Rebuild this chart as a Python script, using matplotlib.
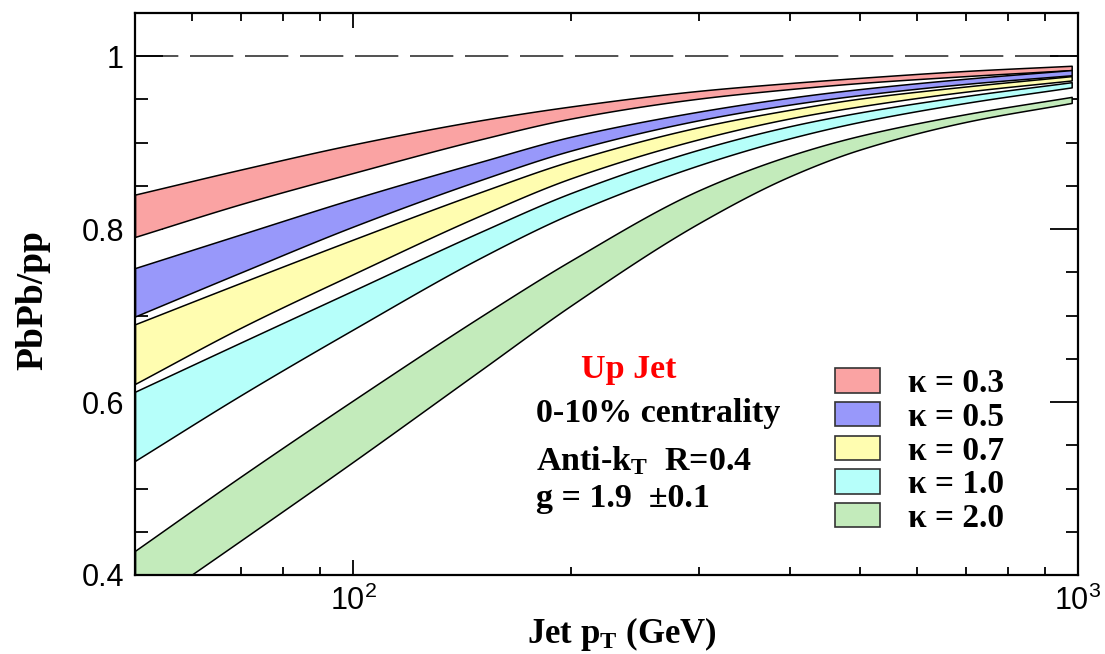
import matplotlib
matplotlib.use("Agg")
import numpy as np
import matplotlib.pyplot as plt
from matplotlib.patches import Patch
from matplotlib.ticker import FixedLocator, NullFormatter, MultipleLocator

# Jet pT grid (GeV) and PbPb/pp bands (upper / lower edges) per kappa
pt = [50, 70, 100, 150, 200, 300, 400, 500, 700, 980]

k03_hi = [0.840, 0.869, 0.898, 0.926, 0.942, 0.960, 0.969, 0.975, 0.983, 0.989]
k03_lo = [0.791, 0.829, 0.865, 0.904, 0.928, 0.951, 0.962, 0.969, 0.977, 0.984]

k05_hi = [0.755, 0.794, 0.835, 0.878, 0.907, 0.936, 0.952, 0.962, 0.974, 0.984]
k05_lo = [0.699, 0.750, 0.803, 0.857, 0.891, 0.926, 0.944, 0.955, 0.968, 0.978]

k07_hi = [0.690, 0.738, 0.788, 0.843, 0.879, 0.918, 0.938, 0.951, 0.965, 0.977]
k07_lo = [0.621, 0.686, 0.748, 0.816, 0.859, 0.904, 0.928, 0.942, 0.959, 0.972]

k10_hi = [0.612, 0.669, 0.729, 0.797, 0.842, 0.892, 0.919, 0.935, 0.954, 0.970]
k10_lo = [0.532, 0.608, 0.684, 0.767, 0.818, 0.874, 0.905, 0.924, 0.946, 0.964]

k20_hi = [0.428, 0.514, 0.602, 0.699, 0.764, 0.845, 0.885, 0.908, 0.933, 0.953]
k20_lo = [0.355, 0.440, 0.531, 0.637, 0.712, 0.807, 0.861, 0.892, 0.924, 0.946]

labels = ["κ = 0.3", "κ = 0.5", "κ = 0.7", "κ = 1.0", "κ = 2.0"]
colors = ["#FAA3A3", "#9898FA", "#FFFDB0", "#B6FFFA", "#C3EBBB"]


def smooth(x, y, n=300):
    """Monotone cubic (Fritsch-Carlson) curve through the points, in log-x."""
    lx = np.log10(np.asarray(x, float))
    y = np.asarray(y, float)
    h = np.diff(lx)
    d = np.diff(y) / h
    m = np.empty_like(y)
    m[0], m[-1] = d[0], d[-1]
    for k in range(1, len(y) - 1):
        if d[k - 1] * d[k] > 0:
            w1 = 2 * h[k] + h[k - 1]
            w2 = h[k] + 2 * h[k - 1]
            m[k] = (w1 + w2) / (w1 / d[k - 1] + w2 / d[k])
        else:
            m[k] = 0.0
    lf = np.linspace(lx[0], lx[-1], n)
    idx = np.clip(np.searchsorted(lx, lf) - 1, 0, len(h) - 1)
    t = (lf - lx[idx]) / h[idx]
    h00 = 2 * t**3 - 3 * t**2 + 1
    h10 = t**3 - 2 * t**2 + t
    h01 = -2 * t**3 + 3 * t**2
    h11 = t**3 - t**2
    yf = (h00 * y[idx] + h10 * h[idx] * m[idx]
          + h01 * y[idx + 1] + h11 * h[idx] * m[idx + 1])
    return 10**lf, yf


plt.rcParams["mathtext.fontset"] = "custom"
plt.rcParams["mathtext.rm"] = "Liberation Serif:bold"
plt.rcParams["mathtext.bf"] = "Liberation Serif:bold"
plt.rcParams["mathtext.it"] = "Liberation Serif:bold"

SERIF = {"family": "Liberation Serif", "weight": "bold"}

fig = plt.figure(figsize=(11.05, 6.54), dpi=100)
ax = fig.add_axes([0.1222, 0.1208, 0.8534, 0.8593])

bands = [(k03_lo, k03_hi), (k05_lo, k05_hi), (k07_lo, k07_hi),
         (k10_lo, k10_hi), (k20_lo, k20_hi)]
for (lo, hi), c in zip(bands, colors):
    xs, ylo = smooth(pt, lo)
    _, yhi = smooth(pt, hi)
    ax.fill_between(xs, ylo, yhi, facecolor=c, edgecolor="black", linewidth=1.1, zorder=2)

ax.axhline(1.0, color="#333333", linewidth=1.2, dashes=(26, 7), zorder=1)

ax.set_xscale("log")
ax.set_xlim(50, 1000)
ax.set_ylim(0.4, 1.05)

ax.yaxis.set_major_locator(FixedLocator([0.4, 0.6, 0.8, 1.0]))
ax.set_yticklabels(["0.4", "0.6", "0.8", "1"])
ax.yaxis.set_minor_locator(MultipleLocator(0.05))
ax.xaxis.set_minor_formatter(NullFormatter())

for side in ax.spines.values():
    side.set_linewidth(1.6)

ax.tick_params(which="both", direction="in", top=True, right=True, width=1.3,
               labelsize=22, labelfontfamily="Liberation Sans", pad=8, zorder=3)
ax.tick_params(axis="y", which="major", length=20)
ax.tick_params(axis="y", which="minor", length=9)
ax.tick_params(axis="x", which="major", length=11)
ax.tick_params(axis="x", which="minor", length=6)

ax.set_ylabel("PbPb/pp", fontsize=27, **SERIF)
ax.yaxis.set_label_coords(-0.090, 0.489)
ax.set_xlabel(r"Jet p$_\mathrm{T}$ (GeV)", fontsize=25, **SERIF)
ax.xaxis.set_label_coords(0.516, -0.072)

ax.text(0.523, 0.365, "Up Jet", color="#FF0000", fontsize=24.5, ha="center", va="center",
        transform=ax.transAxes, **SERIF)
ax.text(0.425, 0.288, "0-10% centrality", fontsize=24.5, ha="left", va="center",
        transform=ax.transAxes, **SERIF)
ax.text(0.425, 0.203, r"Anti-k$_\mathrm{T}$  R=0.4", fontsize=24.5, ha="left", va="center",
        transform=ax.transAxes, **SERIF)
ax.text(0.425, 0.137, "g = 1.9  ±0.1", fontsize=24.5, ha="left", va="center",
        transform=ax.transAxes, **SERIF)

handles = [Patch(facecolor=c, edgecolor="#333333", linewidth=1.2) for c in colors]
leg = ax.legend(handles, labels, loc="upper left", bbox_to_anchor=(0.742, 0.368),
                frameon=False, borderpad=0, borderaxespad=0, handlelength=1.35,
                handleheight=0.75, handletextpad=0.85, labelspacing=0.08,
                prop={"family": "Liberation Serif", "weight": "bold", "size": 24})

fig.savefig("out.png", dpi=100)
